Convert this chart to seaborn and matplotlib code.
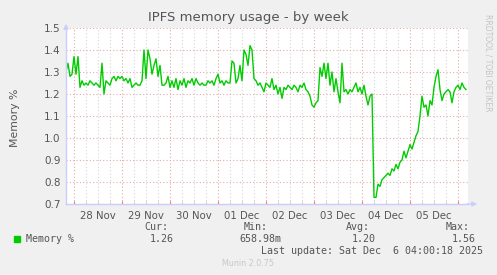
import numpy as np
import pandas as pd
import matplotlib
matplotlib.use("Agg")
import matplotlib.pyplot as plt
import matplotlib.dates as mdates
from matplotlib.ticker import FuncFormatter, MultipleLocator
from matplotlib.patches import Rectangle
import seaborn as sns

# ---- data (hourly samples) ----
start_time = "2025-11-27 20:00"
memory_pct = [
    1.30, 1.34, 1.28, 1.29, 1.37, 1.29, 1.37, 1.23, 1.26, 1.24,
    1.25, 1.24, 1.26, 1.25, 1.24, 1.25, 1.24, 1.23, 1.34, 1.20,
    1.26, 1.25, 1.24, 1.27, 1.28, 1.26, 1.28, 1.27, 1.28, 1.26,
    1.27, 1.25, 1.27, 1.23, 1.24, 1.25, 1.24, 1.24, 1.26, 1.40,
    1.27, 1.40, 1.36, 1.29, 1.33, 1.36, 1.28, 1.33, 1.24, 1.24,
    1.25, 1.28, 1.23, 1.26, 1.23, 1.27, 1.22, 1.26, 1.24, 1.27,
    1.23, 1.26, 1.25, 1.27, 1.24, 1.27, 1.25, 1.24, 1.25, 1.24,
    1.24, 1.26, 1.25, 1.26, 1.24, 1.27, 1.29, 1.25, 1.26, 1.24,
    1.26, 1.25, 1.25, 1.35, 1.34, 1.25, 1.27, 1.33, 1.26, 1.40,
    1.38, 1.33, 1.42, 1.40, 1.27, 1.26, 1.24, 1.25, 1.23, 1.21,
    1.25, 1.24, 1.23, 1.27, 1.22, 1.24, 1.20, 1.23, 1.18, 1.23,
    1.22, 1.24, 1.23, 1.22, 1.24, 1.23, 1.21, 1.24, 1.23, 1.25,
    1.22, 1.21, 1.19, 1.15, 1.14, 1.16, 1.17, 1.32, 1.28, 1.34,
    1.27, 1.34, 1.24, 1.30, 1.21, 1.27, 1.21, 1.16, 1.34, 1.21,
    1.22, 1.20, 1.22, 1.21, 1.23, 1.25, 1.21, 1.23, 1.20, 1.24,
    1.19, 1.15, 1.19, 1.20, 0.73, 0.73, 0.79, 0.78, 0.81, 0.82,
    0.83, 0.84, 0.83, 0.86, 0.85, 0.88, 0.86, 0.89, 0.90, 0.94,
    0.91, 0.94, 0.97, 0.95, 0.98, 1.01, 1.03, 1.10, 1.19, 1.14,
    1.15, 1.10, 1.17, 1.15, 1.23, 1.28, 1.31, 1.22, 1.17, 1.20,
    1.21, 1.22, 1.21, 1.16, 1.21, 1.23, 1.24, 1.22, 1.25, 1.23,
    1.22,
]
series_name = "Memory %"
stats_labels = ["Cur:", "Min:", "Avg:", "Max:"]
stats_values = ["1.26", "658.98m", "1.20", "1.56"]
y_ticks = [0.7, 0.8, 0.9, 1.0, 1.1, 1.2, 1.3, 1.4, 1.5]
title = "IPFS memory usage - by week"
last_update = "Last update: Sat Dec  6 04:00:18 2025"
footer = "Munin 2.0.75"
side_text = "RRDTOOL / TOBI OETIKER"

times = pd.date_range(start_time, periods=len(memory_pct), freq="h")
df = pd.DataFrame({"time": times, "value": memory_pct})

# ---- figure ----
W, H = 497, 275
fig = plt.figure(figsize=(W / 100, H / 100), dpi=100, facecolor="#F0F0F0")
ax = fig.add_axes([66 / W, 1 - 204 / H, (468 - 66) / W, (204 - 28) / H])
ax.set_facecolor("white")

sns.lineplot(data=df, x="time", y="value", ax=ax, color="#00CC00",
             linewidth=1.0, legend=False)

x0 = times[0]
x1 = times[-1] + pd.Timedelta(hours=1)
ax.set_xlim(x0, x1)
ax.set_ylim(y_ticks[0], y_ticks[-1])
ax.set_yticks(y_ticks)
ax.yaxis.set_major_formatter(FuncFormatter(lambda v, p: f"{v:.1f}"))

ax.xaxis.set_major_locator(mdates.HourLocator(byhour=[0]))
ax.xaxis.set_minor_locator(mdates.HourLocator(byhour=[6, 12, 18]))
ax.xaxis.set_major_formatter(FuncFormatter(lambda v, p: ""))

def minor_fmt(v, p):
    h = int(round(v * 24)) % 24
    if h == 12:
        return mdates.num2date(v).strftime("%d %b")
    return ""

ax.xaxis.set_minor_formatter(FuncFormatter(minor_fmt))

red = "#E8A8A8"
gray = "#D4D4D4"
ax.grid(True, which="major", axis="both", color=red, linestyle=(0, (1, 2)), linewidth=0.8)
ax.grid(True, which="minor", axis="x", color=gray, linestyle=(0, (1, 2)), linewidth=0.8)
ax.set_axisbelow(True)

ax.tick_params(axis="y", which="both", length=0, labelsize=7.5, labelcolor="#555555", pad=4)
ax.tick_params(axis="x", which="major", direction="in", length=2, color="#E08080", labelsize=0)
ax.tick_params(axis="x", which="minor", direction="in", length=2, color="#C8C8C8",
               labelsize=7.3, labelcolor="#555555", pad=5)

for s in ["top", "right"]:
    ax.spines[s].set_visible(False)
for s in ["left", "bottom"]:
    ax.spines[s].set_color("#CCCCFF")
    ax.spines[s].set_linewidth(1.0)

# axis arrows
ax.annotate("", xy=(0, 1.04), xytext=(0, 0.99), xycoords="axes fraction",
            arrowprops=dict(arrowstyle="-|>", color="#CCCCFF", lw=1, mutation_scale=7),
            annotation_clip=False)
ax.annotate("", xy=(1.03, 0), xytext=(0.99, 0), xycoords="axes fraction",
            arrowprops=dict(arrowstyle="-|>", color="#CCCCFF", lw=1, mutation_scale=7),
            annotation_clip=False)

ax.set_xlabel("")
ax.set_ylabel("")

# ---- texts ----
fig.text(248.5 / W, 1 - 18 / H, title, ha="center", va="center",
         fontsize=9.5, color="#555555")
fig.text(15 / W, 1 - 118 / H, series_name, rotation=90, ha="center", va="center",
         fontsize=7.8, color="#555555")
fig.text(488 / W, 1 - 14 / H, side_text, rotation=270, ha="center", va="top",
         fontsize=5.5, color="#C4C4C4")

mono = "DejaVu Sans Mono"
fig.patches.append(Rectangle((14 / W, 1 - 242 / H), 6 / W, 6 / H,
                             transform=fig.transFigure, color="#00CC00"))
fig.text(26 / W, 1 - 239.5 / H, series_name, ha="left", va="center",
         fontsize=7.2, family=mono, color="#555555")
label_right = [168, 268, 370, 470]
value_right = [174, 281, 376, 476]
for lab, xr in zip(stats_labels, label_right):
    fig.text(xr / W, 1 - 227.5 / H, lab, ha="right", va="center",
             fontsize=7.2, family=mono, color="#555555")
for val, xr in zip(stats_values, value_right):
    fig.text(xr / W, 1 - 239.5 / H, val, ha="right", va="center",
             fontsize=7.2, family=mono, color="#555555")
fig.text(483 / W, 1 - 251.5 / H, last_update, ha="right", va="center",
         fontsize=7.2, family=mono, color="#555555")
fig.text(248 / W, 1 - 264 / H, footer, ha="center", va="center",
         fontsize=5.8, color="#C8C8C8")

fig.savefig("out.png", dpi=100, facecolor=fig.get_facecolor())
